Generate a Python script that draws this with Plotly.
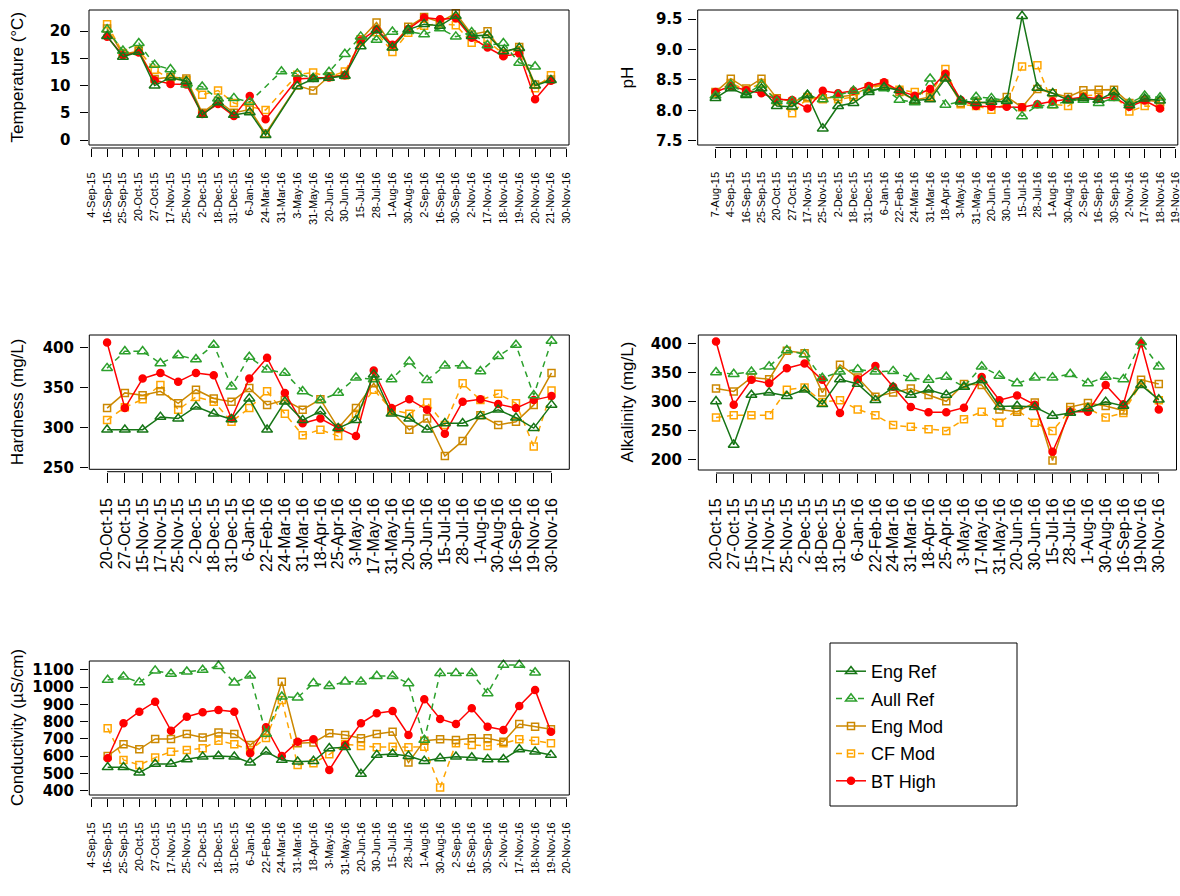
import plotly.graph_objects as go

W, H = 1180, 896

SERIES = ["Eng Ref", "Aull Ref", "Eng Mod", "CF Mod", "BT High"]

# ---- sampling-date tick labels ----
temp_labels = ["4-Sep-15", "16-Sep-15", "25-Sep-15", "20-Oct-15", "27-Oct-15", "17-Nov-15",
               "25-Nov-15", "2-Dec-15", "18-Dec-15", "31-Dec-15", "6-Jan-16", "24-Mar-16",
               "31-Mar-16", "3-May-16", "31-May-16", "20-Jun-16", "30-Jun-16", "15-Jul-16",
               "28-Jul-16", "1-Aug-16", "30-Aug-16", "2-Sep-16", "16-Sep-16", "30-Sep-16",
               "2-Nov-16", "17-Nov-16", "18-Nov-16", "19-Nov-16", "20-Nov-16", "21-Nov-16",
               "30-Nov-16"]
ph_labels = ["7-Aug-15", "4-Sep-15", "16-Sep-15", "25-Sep-15", "20-Oct-15", "27-Oct-15",
             "17-Nov-15", "25-Nov-15", "2-Dec-15", "18-Dec-15", "31-Dec-15", "6-Jan-16",
             "22-Feb-16", "24-Mar-16", "31-Mar-16", "18-Apr-16", "3-May-16", "31-May-16",
             "20-Jun-16", "30-Jun-16", "15-Jul-16", "28-Jul-16", "1-Aug-16", "30-Aug-16",
             "2-Sep-16", "16-Sep-16", "30-Sep-16", "2-Nov-16", "17-Nov-16", "18-Nov-16",
             "19-Nov-16"]
chem_labels = ["20-Oct-15", "27-Oct-15", "15-Nov-15", "17-Nov-15", "25-Nov-15", "2-Dec-15",
               "18-Dec-15", "31-Dec-15", "6-Jan-16", "22-Feb-16", "24-Mar-16", "31-Mar-16",
               "18-Apr-16", "25-Apr-16", "3-May-16", "17-May-16", "31-May-16", "20-Jun-16",
               "30-Jun-16", "15-Jul-16", "28-Jul-16", "1-Aug-16", "30-Aug-16", "16-Sep-16",
               "19-Nov-16", "30-Nov-16"]
cond_labels = ["4-Sep-15", "16-Sep-15", "25-Sep-15", "20-Oct-15", "27-Oct-15", "17-Nov-15",
               "25-Nov-15", "2-Dec-15", "18-Dec-15", "31-Dec-15", "6-Jan-16", "22-Feb-16",
               "24-Mar-16", "31-Mar-16", "18-Apr-16", "3-May-16", "31-May-16", "20-Jun-16",
               "30-Jun-16", "15-Jul-16", "28-Jul-16", "1-Aug-16", "30-Aug-16", "2-Sep-16",
               "16-Sep-16", "30-Sep-16", "2-Nov-16", "17-Nov-16", "18-Nov-16", "19-Nov-16",
               "20-Nov-16"]

# ---- Temperature (deg C) ----
temp_eng_ref = [19.1, 15.3, 16.2, 10.0, 11.5, 10.8, 4.6, 6.9, 4.6, 5.1, 0.9, None, 9.9, 11.2, 11.4,
                11.8, 17.2, 20.2, 17.0, 20.3, 21.3, 21.0, 22.8, 19.1, 19.3, 16.3, 16.9, 10.0, 11.0]
temp_aull_ref = [20.3, 16.4, 17.8, 13.8, 13.0, 10.2, 9.8, 7.6, 7.7, 7.0, None, 12.6, 12.2, 11.4, 12.5,
                 15.8, 19.0, 18.4, 19.9, 20.0, 19.4, 20.5, 19.0, 19.8, 17.4, 17.8, 14.2, 13.5, None]
temp_eng_mod = [20.5, 15.8, 16.3, 11.2, 11.6, 11.3, 5.0, 7.2, 5.0, 5.6, 1.2, None, 10.0, 9.1, 11.7,
                11.9, 18.5, 21.6, 17.2, 20.8, 22.6, 21.7, 23.3, 19.4, 20.0, 16.0, 17.1, 10.2, 11.1]
temp_cf_mod = [21.3, 16.0, 16.5, 12.9, 11.2, 11.0, 8.3, 9.1, 6.8, 6.2, 5.5, None, 12.0, 12.4, 11.6,
               12.6, 18.0, 19.8, 16.2, 19.7, 21.0, 21.4, 21.1, 17.9, 18.2, 15.8, 16.5, 9.5, 11.9]
temp_bt_high = [19.0, 15.6, 16.1, 11.0, 10.3, 10.2, 4.8, 6.6, 4.4, 8.1, 3.8, None, 11.2, 11.4, 11.5,
                11.9, 18.3, 20.3, 17.5, 20.4, 22.5, 22.2, 22.4, 18.8, 17.0, 15.4, 15.9, 7.5, 10.9]

# ---- pH ----
ph_eng_ref = [8.20, 8.36, 8.25, 8.36, 8.07, 8.06, 8.25, 7.70, 8.07, 8.12, 8.30, 8.38, 8.33, 8.16, 8.18,
              8.52, 8.16, 8.12, 8.14, 8.15, 9.55, 8.37, 8.28, 8.17, 8.20, 8.17, 8.30, 8.08, 8.19, 8.16]
ph_aull_ref = [8.24, 8.42, 8.27, 8.42, 8.15, 8.15, 8.25, 8.18, 8.25, 8.32, 8.33, 8.36, 8.17, 8.13, 8.52,
               8.09, 8.14, 8.22, 8.20, 8.16, 7.90, 8.08, 8.08, 8.16, 8.17, 8.12, 8.20, 8.12, 8.24, 8.21]
ph_eng_mod = [8.30, 8.52, 8.36, 8.52, 8.20, 8.14, 8.22, 8.20, 8.22, 8.25, 8.38, 8.44, 8.30, 8.17, 8.22,
              8.55, 8.12, 8.14, 8.11, 8.22, 8.05, 8.35, 8.28, 8.22, 8.33, 8.34, 8.34, 8.12, 8.17, 8.14]
ph_cf_mod = [8.28, 8.45, 8.33, 8.45, 8.15, 7.95, 8.20, 8.18, 8.18, 8.22, 8.36, 8.42, 8.34, 8.30, 8.25,
             8.68, 8.10, 8.07, 8.01, 8.10, 8.72, 8.74, 8.10, 8.07, 8.24, 8.25, 8.25, 7.98, 8.07, 8.06]
ph_bt_high = [8.30, 8.40, 8.33, 8.28, 8.18, 8.17, 8.03, 8.32, 8.28, 8.32, 8.40, 8.46, 8.32, 8.24, 8.35,
              8.60, 8.17, 8.07, 8.06, 8.06, 8.05, 8.10, 8.15, 8.18, 8.22, 8.19, 8.22, 8.06, 8.16, 8.03]

# ---- Hardness (mg/L) ----
hard_eng_ref = [297, 297, 297, 313, 311, 326, 317, 310, 336, 297, 332, 309, 320, 299, 309, 366, 317,
                311, 297, 305, 305, 314, 322, 312, 299, 328]
hard_aull_ref = [374, 395, 395, 380, 390, 385, 403, 351, 388, 372, 368, 345, 334, 343, 362, 360, 360,
                 382, 359, 377, 377, 370, 389, 403, 340, 408]
hard_eng_mod = [324, 343, 340, 345, 330, 347, 336, 332, 349, 328, 334, 322, 335, 299, 324, 355, 320,
                297, 311, 264, 283, 315, 303, 307, 328, 368]
hard_cf_mod = [309, 325, 335, 353, 322, 338, 332, 307, 324, 345, 317, 290, 297, 289, 317, 347, 322,
               317, 331, 303, 355, 334, 342, 330, 276, 346]
hard_bt_high = [406, 324, 361, 368, 357, 368, 365, 311, 361, 387, 343, 305, 311, 299, 289, 371, 324,
                335, 322, 292, 332, 335, 329, 324, 334, 339]

# ---- Alkalinity (mg/L) ----
alk_eng_ref = [300, 225, 311, 315, 309, 320, 295, 338, 330, 302, 324, 311, 320, 311, 325, 336, 291,
               292, 290, 275, 280, 288, 299, 292, 328, 303]
alk_aull_ref = [350, 347, 351, 360, 388, 381, 340, 351, 355, 351, 352, 340, 337, 342, 325, 360, 344,
                331, 341, 341, 347, 331, 342, 338, 402, 360]
alk_eng_mod = [322, 317, 341, 338, 387, 383, 315, 363, 341, 308, 315, 322, 311, 300, 330, 328, 286,
               282, 298, 198, 290, 297, 292, 284, 337, 330]
alk_cf_mod = [272, 276, 276, 276, 320, 324, 299, 302, 286, 276, 259, 256, 252, 249, 269, 282, 263,
              285, 263, 249, 285, 288, 272, 280, 331, 302]
alk_bt_high = [403, 294, 337, 331, 357, 365, 337, 280, 338, 361, 325, 290, 281, 281, 289, 342, 302,
               310, 294, 213, 282, 282, 328, 295, 400, 286]

# ---- Conductivity (uS/cm) ----
cond_eng_ref = [536, 536, 505, 555, 555, 582, 597, 601, 597, 563, 626, 578, 568, 572, 646, 652, 497,
                607, 613, 601, 572, 588, 597, 592, 582, 582, 640, 626, 607]
cond_aull_ref = [1042, 1061, 1028, 1096, 1077, 1090, 1100, 1123, 1026, 1067, 730, 945, 940, 1023, 1007,
                 1032, 1032, 1065, 1065, 1023, 694, 1081, 1081, 1081, 965, 1129, 1129, 1085, None]
cond_eng_mod = [601, 669, 640, 700, 700, 729, 708, 737, 729, 665, 735, 1032, 675, 679, 733, 723, 704,
                729, 742, 563, 690, 698, 694, 704, 704, 684, 787, 771, 756]
cond_cf_mod = [762, 578, 549, 592, 626, 636, 646, 690, 669, 636, 705, 926, 549, 559, 611, 669, 659,
               652, 655, 652, 655, 418, 675, 665, 659, 675, 698, 690, 675]
cond_bt_high = [588, 791, 858, 916, 748, 829, 855, 868, 858, 617, 768, 601, 684, 698, 520, 665, 791,
                849, 862, 723, 930, 816, 787, 878, 771, 752, 891, 984, 742]

STYLE = {
    "Eng Ref":  dict(color="#167516", dash="solid",   symbol="triangle-up-open", size=9.5),
    "Aull Ref": dict(color="#2CA02C", dash="6px,5px", symbol="triangle-up-open", size=9.5),
    "Eng Mod":  dict(color="#CC8800", dash="solid",   symbol="square-open",      size=7),
    "CF Mod":   dict(color="#FFA500", dash="6px,5px", symbol="square-open",      size=7),
    "BT High":  dict(color="#FF0000", dash="solid",   symbol="circle",           size=7),
}
DRAW_ORDER = ["CF Mod", "Eng Mod", "BT High", "Aull Ref", "Eng Ref"]

# panel layout in pixels: box = (left, top, right, bottom)
panels = [
    dict(title="Temperature (°C)", box=(89, 10, 569, 145), xr=(-0.14, 30.14), yr=(-0.92, 23.9),
         labels=temp_labels, start=1, xfont=11, xline=148, xlen=8, xstand=11,
         yticks=[0, 5, 10, 15, 20], yfmt="{:g}", ypos=87.5, ystand=6, title_x=17,
         data=dict(zip(SERIES, [temp_eng_ref, temp_aull_ref, temp_eng_mod, temp_cf_mod, temp_bt_high]))),
    dict(title="pH", box=(697.7, 10, 1177.8, 145), xr=(-1.16, 30.16), yr=(7.429, 9.65),
         labels=ph_labels, start=0, xfont=11, xline=147.5, xlen=9, xstand=10,
         yticks=[7.5, 8.0, 8.5, 9.0, 9.5], yfmt="{:.1f}", ypos=695.5, ystand=2, title_x=627,
         data=dict(zip(SERIES, [ph_eng_ref, ph_aull_ref, ph_eng_mod, ph_cf_mod, ph_bt_high]))),
    dict(title="Hardness (mg/L)", box=(89.3, 335, 569.3, 469.3), xr=(-1, 26), yr=(247.5, 415.4),
         labels=chem_labels, start=0, xfont=16, xline=471.7, xlen=10, xstand=9,
         yticks=[250, 300, 350, 400], yfmt="{:g}", ypos=88, ystand=3, title_x=17,
         data=dict(zip(SERIES, [hard_eng_ref, hard_aull_ref, hard_eng_mod, hard_cf_mod, hard_bt_high]))),
    dict(title="Alkalinity (mg/L)", box=(698.3, 335, 1176.5, 470), xr=(-1, 26), yr=(181.6, 414.3),
         labels=chem_labels, start=0, xfont=16, xline=473, xlen=9, xstand=9,
         yticks=[200, 250, 300, 350, 400], yfmt="{:g}", ypos=696, ystand=3, title_x=627,
         data=dict(zip(SERIES, [alk_eng_ref, alk_aull_ref, alk_eng_mod, alk_cf_mod, alk_bt_high]))),
    dict(title="Conductivity (µS/cm)", box=(89.3, 661, 569.3, 795), xr=(-0.16, 30.16), yr=(375, 1152),
         labels=cond_labels, start=1, xfont=11, xline=798, xlen=8, xstand=11,
         yticks=list(range(400, 1101, 100)), yfmt="{:g}", ypos=88, ystand=3, title_x=17,
         data=dict(zip(SERIES, [cond_eng_ref, cond_aull_ref, cond_eng_mod, cond_cf_mod, cond_bt_high]))),
]

SANS = "Liberation Sans, Arial, sans-serif"
fig = go.Figure()
layout = dict(width=W, height=H, margin=dict(l=0, r=0, t=0, b=0),
              paper_bgcolor="white", plot_bgcolor="white", showlegend=True)
shapes, annotations = [], []

for i, p in enumerate(panels):
    n = "" if i == 0 else str(i + 1)
    xa, ya = "x" + n, "y" + n
    l, t, r, b = p["box"]
    layout["xaxis" + n] = dict(
        domain=[l / W, r / W], range=list(p["xr"]), anchor="free", position=1 - p["xline"] / H,
        tickmode="array", tickvals=list(range(len(p["labels"]))), ticktext=p["labels"],
        tickangle=-90, ticks="outside", ticklen=p["xlen"], tickwidth=1, tickcolor="black",
        ticklabelstandoff=p["xstand"], ticklabeloverflow="allow",
        tickfont=dict(family=SANS, size=p["xfont"], color="black"),
        showline=False, showgrid=False, zeroline=False, automargin=False, fixedrange=True)
    layout["yaxis" + n] = dict(
        domain=[1 - b / H, 1 - t / H], range=list(p["yr"]), anchor="free", position=p["ypos"] / W,
        tickmode="array", tickvals=p["yticks"], ticktext=[p["yfmt"].format(v) for v in p["yticks"]],
        ticks="outside", ticklen=8, tickwidth=1, tickcolor="black", ticklabelstandoff=p["ystand"],
        ticklabeloverflow="allow",
        tickfont=dict(family="DejaVu Sans", size=15, weight="bold", color="black"),
        showline=False, showgrid=False, zeroline=False, automargin=False, fixedrange=True)
    # plot frame
    shapes.append(dict(type="rect", xref=xa + " domain", yref=ya + " domain", x0=0, x1=1, y0=0, y1=1,
                       line=dict(color="black", width=1), layer="above"))
    # x axis baseline from first to last tick
    shapes.append(dict(type="line", xref=xa, yref="paper", x0=0, x1=len(p["labels"]) - 1,
                       y0=1 - p["xline"] / H, y1=1 - p["xline"] / H, line=dict(color="black", width=1)))
    annotations.append(dict(text=p["title"], x=p["title_x"] / W, y=1 - (t + b) / 2 / H,
                            xref="paper", yref="paper", xanchor="center", yanchor="middle",
                            textangle=-90, showarrow=False,
                            font=dict(family=SANS, size=17, color="black")))
    for s in DRAW_ORDER:
        vals = p["data"][s]
        st = STYLE[s]
        fig.add_trace(go.Scatter(
            x=list(range(p["start"], p["start"] + len(vals))), y=vals, xaxis=xa, yaxis=ya,
            mode="lines+markers", name=s, legendgroup=s, showlegend=(i == 0),
            legendrank=SERIES.index(s) + 1, connectgaps=True, cliponaxis=False,
            line=dict(color=st["color"], width=1.5, dash=st["dash"]),
            marker=dict(symbol=st["symbol"], size=st["size"], color=st["color"],
                        line=dict(color=st["color"], width=1.5))))

# legend frame
shapes.append(dict(type="rect", xref="paper", yref="paper", x0=830 / W, x1=1017 / W,
                   y0=1 - 806 / H, y1=1 - 643 / H, line=dict(color="black", width=1)))

layout["shapes"] = shapes
layout["annotations"] = annotations
layout["legend"] = dict(x=831 / W, y=1 - 653 / H, xanchor="left", yanchor="top",
                        bgcolor="rgba(0,0,0,0)", borderwidth=0, tracegroupgap=1,
                        font=dict(family=SANS, size=18, color="black"), itemclick=False,
                        itemdoubleclick=False)
fig.update_layout(**layout)
fig.write_html("out.html")
